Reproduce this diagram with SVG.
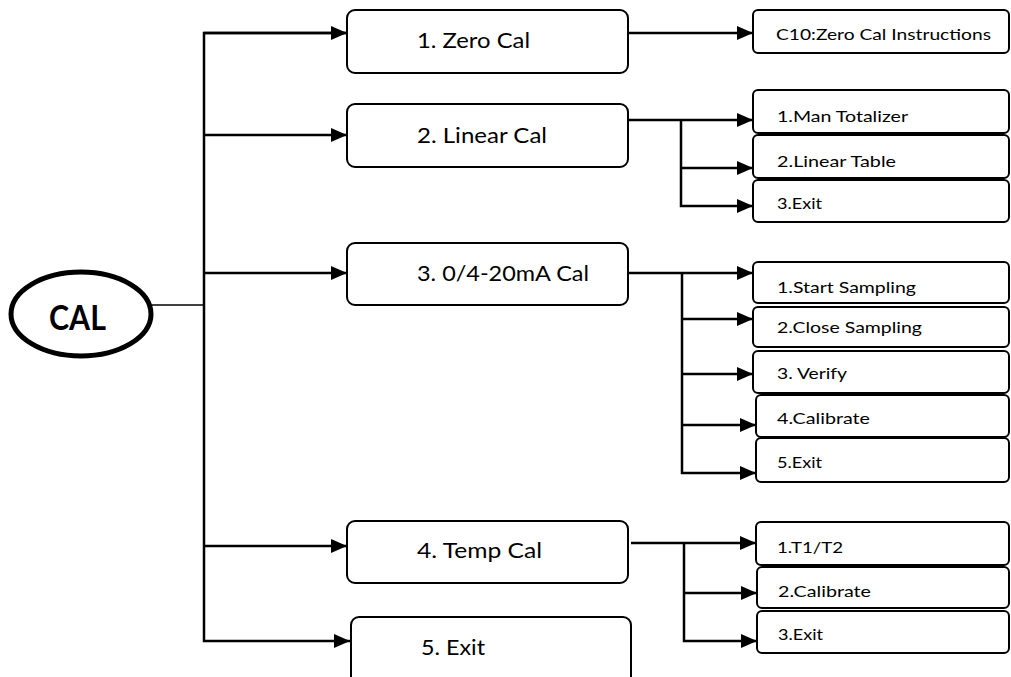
<svg xmlns="http://www.w3.org/2000/svg" width="1011" height="677" viewBox="0 0 1011 677">
<style>
.box{fill:#fff;stroke:#000;stroke-width:2}
.main{font-family:Lato,"Liberation Sans",sans-serif;font-size:21px;fill:#000}
.sub{font-family:Lato,"Liberation Sans",sans-serif;font-size:16px;fill:#000}
.con{fill:none;stroke:#000;stroke-width:2.5}
.thin{fill:none;stroke:#000;stroke-width:1.5}
</style>
<defs>
<marker id="arr" markerUnits="userSpaceOnUse" markerWidth="16" markerHeight="14" refX="16" refY="7" orient="auto">
<path d="M0,0 L16,7 L0,14 Z" fill="#000"/>
</marker>
<clipPath id="c1"><rect x="753" y="262" width="258" height="35"/></clipPath>
<clipPath id="c2"><rect x="753" y="307" width="258" height="30"/></clipPath>
<clipPath id="c3"><rect x="753" y="351" width="258" height="31"/></clipPath>
</defs>

<g id="connectors">
<line class="thin" x1="152" y1="305" x2="204" y2="305"/>
<polyline class="con" points="347,33 204,33 204,641 350,641" marker-end="url(#arr)" marker-start="none"/>
<line class="con" x1="204" y1="33" x2="347" y2="33" marker-end="url(#arr)"/>
<line class="con" x1="204" y1="135" x2="347" y2="135" marker-end="url(#arr)"/>
<line class="con" x1="204" y1="273" x2="347" y2="273" marker-end="url(#arr)"/>
<line class="con" x1="204" y1="546" x2="347" y2="546" marker-end="url(#arr)"/>
<line class="con" x1="628" y1="33" x2="753" y2="33" marker-end="url(#arr)"/>
<line class="con" x1="628" y1="120" x2="753" y2="120" marker-end="url(#arr)"/>
<polyline class="con" points="681,120 681,206 753,206" marker-end="url(#arr)"/>
<line class="con" x1="681" y1="168" x2="753" y2="168" marker-end="url(#arr)"/>
<line class="con" x1="628" y1="273" x2="753" y2="273" marker-end="url(#arr)"/>
<polyline class="con" points="682,273 682,473 756,473" marker-end="url(#arr)"/>
<line class="con" x1="682" y1="319" x2="753" y2="319" marker-end="url(#arr)"/>
<line class="con" x1="682" y1="374" x2="753" y2="374" marker-end="url(#arr)"/>
<line class="con" x1="682" y1="425" x2="756" y2="425" marker-end="url(#arr)"/>
<line class="con" x1="631" y1="543" x2="756" y2="543" marker-end="url(#arr)"/>
<polyline class="con" points="684,543 684,641 757,641" marker-end="url(#arr)"/>
<line class="con" x1="684" y1="593" x2="757" y2="593" marker-end="url(#arr)"/>
</g>

<g id="cal">
<ellipse cx="81" cy="314" rx="70" ry="42" fill="#fff" stroke="#000" stroke-width="5"/>
<text x="49" y="330" font-family="Lato,'Liberation Sans',sans-serif" font-weight="bold" font-size="34" textLength="57" lengthAdjust="spacingAndGlyphs">CAL</text>
</g>

<g id="zero-cal">
<rect class="box" x="347" y="10" width="281" height="63" rx="8"/>
<text class="main" x="417" y="48" textLength="113" lengthAdjust="spacingAndGlyphs">1. Zero Cal</text>
</g>
<g id="linear-cal">
<rect class="box" x="347" y="104" width="281" height="63" rx="8"/>
<text class="main" x="417" y="143" textLength="130" lengthAdjust="spacingAndGlyphs">2. Linear Cal</text>
</g>
<g id="ma-cal">
<rect class="box" x="347" y="243" width="281" height="62" rx="8"/>
<text class="main" x="417" y="281" textLength="172" lengthAdjust="spacingAndGlyphs">3. 0/4-20mA Cal</text>
</g>
<g id="temp-cal">
<rect class="box" x="347" y="521" width="281" height="62" rx="8"/>
<text class="main" x="417" y="558" textLength="125" lengthAdjust="spacingAndGlyphs">4. Temp Cal</text>
</g>
<g id="exit">
<rect class="box" x="351" y="617" width="280" height="70" rx="8"/>
<text class="main" x="421" y="655" textLength="64" lengthAdjust="spacingAndGlyphs">5. Exit</text>
</g>

<g id="zero-instr">
<rect class="box" x="753" y="10" width="256" height="43" rx="5"/>
<text class="sub" x="776" y="40" textLength="215" lengthAdjust="spacingAndGlyphs">C10:Zero Cal Instructions</text>
</g>
<g id="lin-1">
<rect class="box" x="753" y="90" width="256" height="43" rx="5"/>
<text class="sub" x="777" y="122" textLength="131" lengthAdjust="spacingAndGlyphs">1.Man Totalizer</text>
</g>
<g id="lin-2">
<rect class="box" x="753" y="135" width="256" height="43" rx="5"/>
<text class="sub" x="777" y="167" textLength="119" lengthAdjust="spacingAndGlyphs">2.Linear Table</text>
</g>
<g id="lin-3">
<rect class="box" x="753" y="180" width="256" height="42" rx="5"/>
<text class="sub" x="777" y="209" textLength="45" lengthAdjust="spacingAndGlyphs">3.Exit</text>
</g>

<g id="ma-1">
<rect class="box" x="753" y="262" width="256" height="41" rx="5"/>
<text class="sub" x="777" y="293" textLength="139" lengthAdjust="spacingAndGlyphs" clip-path="url(#c1)">1.Start Sampling</text>
</g>
<g id="ma-2">
<rect class="box" x="753" y="307" width="256" height="40" rx="5"/>
<text class="sub" x="777" y="333" textLength="145" lengthAdjust="spacingAndGlyphs" clip-path="url(#c2)">2.Close Sampling</text>
</g>
<g id="ma-3">
<rect class="box" x="753" y="351" width="256" height="42" rx="5"/>
<text class="sub" x="777" y="379" textLength="70" lengthAdjust="spacingAndGlyphs" clip-path="url(#c3)">3. Verify</text>
</g>
<g id="ma-4">
<rect class="box" x="756" y="395" width="253" height="42" rx="5"/>
<text class="sub" x="777" y="424" textLength="93" lengthAdjust="spacingAndGlyphs">4.Calibrate</text>
</g>
<g id="ma-5">
<rect class="box" x="756" y="438" width="253" height="44" rx="5"/>
<text class="sub" x="777" y="468" textLength="45" lengthAdjust="spacingAndGlyphs">5.Exit</text>
</g>

<g id="temp-1">
<rect class="box" x="756" y="522" width="253" height="43" rx="5"/>
<text class="sub" x="777" y="553" textLength="66" lengthAdjust="spacingAndGlyphs">1.T1/T2</text>
</g>
<g id="temp-2">
<rect class="box" x="757" y="567" width="252" height="41" rx="5"/>
<text class="sub" x="778" y="597" textLength="93" lengthAdjust="spacingAndGlyphs">2.Calibrate</text>
</g>
<g id="temp-3">
<rect class="box" x="757" y="611" width="252" height="42" rx="5"/>
<text class="sub" x="778" y="640" textLength="45" lengthAdjust="spacingAndGlyphs">3.Exit</text>
</g>
</svg>
